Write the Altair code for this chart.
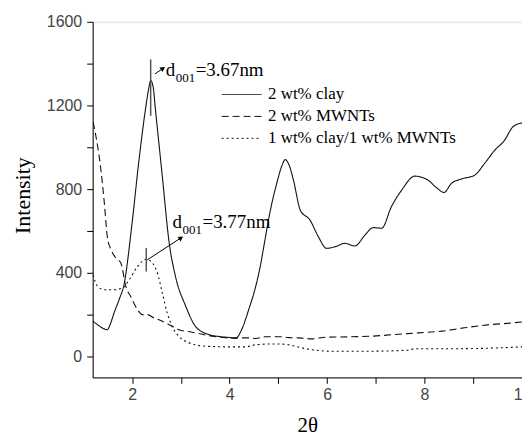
import altair as alt
import pandas as pd

series_names = ["2 wt% clay", "2 wt% MWNTs", "1 wt% clay/1 wt% MWNTs"]

clay_x = [1.19, 1.30, 1.40, 1.49, 1.56, 1.63, 1.73, 1.84, 1.99, 2.14, 2.27, 2.34, 2.38, 2.43,
          2.48, 2.62, 2.76, 2.89, 3.10, 3.30, 3.57, 3.80, 4.05, 4.12, 4.25, 4.40, 4.53, 4.62,
          4.72, 4.82, 4.97, 5.07, 5.14, 5.22, 5.31, 5.45, 5.65, 5.82, 5.99, 6.17, 6.37, 6.57,
          6.78, 6.95, 7.12, 7.32, 7.53, 7.80, 8.07, 8.24, 8.40, 8.55, 8.75, 9.03, 9.23, 9.44,
          9.64, 9.81, 9.90, 10.0]
clay_y = [170, 150, 135, 128, 160, 209, 270, 352, 620, 938, 1176, 1280, 1319, 1290,
          1176, 859, 543, 382, 240, 144, 105, 95, 89, 86, 130, 230, 330, 420,
          550, 680, 830, 910, 941, 915, 843, 700, 652, 573, 517, 525, 541, 528,
          581, 616, 613, 716, 795, 862, 843, 808, 784, 827, 848, 867, 922, 986,
          1033, 1097, 1110, 1116]

mwnt_x = [1.20, 1.26, 1.36, 1.43, 1.49, 1.55, 1.60, 1.67, 1.77, 1.87, 1.97, 2.11, 2.21, 2.31,
          2.45, 2.55, 2.76, 2.96, 3.23, 3.57, 3.98, 4.39, 4.53, 4.73, 5.07, 5.21, 5.42, 5.69,
          5.96, 6.44, 6.91, 7.39, 7.87, 8.35, 8.82, 9.30, 9.78, 10.0]
mwnt_y = [1120, 1049, 890, 732, 573, 520, 494, 470, 446, 335, 287, 224, 200, 200,
          184, 176, 152, 128, 116, 100, 89, 89, 86, 94, 94, 90, 89, 84,
          92, 94, 97, 105, 113, 121, 137, 151, 160, 165]

hyb_x = [1.20, 1.29, 1.43, 1.63, 1.80, 1.94, 2.11, 2.29, 2.42, 2.52, 2.62, 2.72, 2.82, 2.96,
         3.17, 3.51, 3.98, 4.33, 4.53, 4.94, 5.21, 5.48, 6.10, 6.78, 7.66, 7.80, 8.48, 9.51, 10.0]
hyb_y = [390, 335, 319, 319, 327, 367, 430, 465, 446, 398, 303, 208, 144, 97,
         65, 49, 46, 46, 56, 60, 56, 41, 25, 25, 30, 37, 37, 41, 46]

# annotations
mark_x = [2.38, 2.29]
mark_y1 = [1150, 406]
mark_y2 = [1420, 519]
arrow_x1 = [2.47, 2.31]
arrow_y1 = [1351, 462]
arrow_x2 = [2.62, 2.99]
arrow_y2 = [1375, 565]
label_x = [2.69, 2.83]
label_y = [1343, 613]
label_main = ["d", "d"]
label_sub = ["001", "001"]
label_rest = ["=3.67nm", "=3.77nm"]

rows = []
for name, xs, ys in zip(series_names, [clay_x, mwnt_x, hyb_x], [clay_y, mwnt_y, hyb_y]):
    for i, (a, b) in enumerate(zip(xs, ys)):
        rows.append({"series": name, "two_theta": a, "intensity": b, "order": i})
df = pd.DataFrame(rows)

marks_df = pd.DataFrame({"two_theta": mark_x, "intensity": mark_y1, "intensity2": mark_y2})
arrows_df = pd.DataFrame({"two_theta": arrow_x1, "intensity": arrow_y1,
                          "two_theta2": arrow_x2, "intensity2": arrow_y2})
heads_df = pd.DataFrame({"two_theta": arrow_x2, "intensity": arrow_y2})
labels_df = pd.DataFrame({"two_theta": label_x, "intensity": label_y,
                          "main": label_main, "sub": label_sub, "rest": label_rest})

xscale = alt.Scale(domain=[1.19, 10], nice=False, zero=False)
yscale = alt.Scale(domain=[-100, 1600], nice=False, zero=False)

xaxis = alt.Axis(values=[2, 3, 4, 5, 6, 7, 8, 9, 10],
                 labelExpr="datum.value % 2 == 0 ? datum.label : ''",
                 grid=False, tickSize=6, tickColor="#000", domainColor="#000",
                 labelFont="Liberation Sans", labelFontSize=16, labelColor="#444",
                 labelPadding=3, labelFlush=False, labelOverlap=False, labelBound=False,
                 titleFont="Liberation Serif", titleFontSize=21, titleFontWeight="normal",
                 titleColor="#000", titleY=54, titleBaseline="alphabetic")
yaxis = alt.Axis(values=[0, 200, 400, 600, 800, 1000, 1200, 1400, 1600], format="d",
                 labelExpr="datum.value % 400 == 0 ? datum.label : ''",
                 grid=False, tickSize=6, tickColor="#000", domainColor="#000",
                 labelFont="Liberation Sans", labelFontSize=16, labelColor="#444",
                 labelPadding=5, labelOverlap=False,
                 titleFont="Liberation Serif", titleFontSize=22, titleFontWeight="normal",
                 titleColor="#000", titleX=-70, titleY=174, titleBaseline="middle")

X = alt.X("two_theta:Q", scale=xscale, axis=xaxis, title="2θ")
Y = alt.Y("intensity:Q", scale=yscale, axis=yaxis, title="Intensity")

lines = alt.Chart(df).mark_line(color="#111", strokeWidth=1.1, interpolate="monotone", clip=True).encode(
    x=X, y=Y,
    strokeDash=alt.StrokeDash(
        "series:N",
        scale=alt.Scale(domain=series_names, range=[[1, 0], [7, 4], [2, 3]]),
        legend=alt.Legend(title=None, orient="none", legendX=129, legendY=62,
                          symbolType="stroke", symbolSize=1600, symbolStrokeWidth=1,
                          symbolStrokeColor="#111", clipHeight=22, rowPadding=0,
                          labelFont="Liberation Serif", labelFontSize=17, labelColor="#000",
                          labelOffset=6, padding=0, labelLimit=400)),
    order="order:Q",
)

vmarks = alt.Chart(marks_df).mark_rule(color="#555", strokeWidth=1.5).encode(
    x=X, y=Y, y2="intensity2:Q")

arrows = alt.Chart(arrows_df).mark_rule(color="#000", strokeWidth=1).encode(
    x=X, y=Y, x2="two_theta2:Q", y2="intensity2:Q")

heads = alt.Chart(heads_df).mark_point(shape="triangle", filled=True, color="#000",
                                       size=30, angle=56, opacity=1).encode(x=X, y=Y)

txt_kw = dict(align="left", baseline="alphabetic", font="Liberation Serif", color="#000")
t_main = alt.Chart(labels_df).mark_text(fontSize=19, **txt_kw).encode(x=X, y=Y, text="main:N")
t_sub = alt.Chart(labels_df).mark_text(fontSize=13, dx=10, dy=6, **txt_kw).encode(x=X, y=Y, text="sub:N")
t_rest = alt.Chart(labels_df).mark_text(fontSize=19, dx=30, **txt_kw).encode(x=X, y=Y, text="rest:N")

chart = alt.layer(lines, vmarks, arrows, heads, t_main, t_sub, t_rest).properties(
    width=431, height=357,
    autosize=alt.AutoSizeParams(type="none"),
    padding={"left": 85, "top": 13, "right": 0, "bottom": 58},
).configure_view(stroke=None).configure(background="white")

chart.save("out.html", embed_options={"renderer": "svg", "actions": False})
